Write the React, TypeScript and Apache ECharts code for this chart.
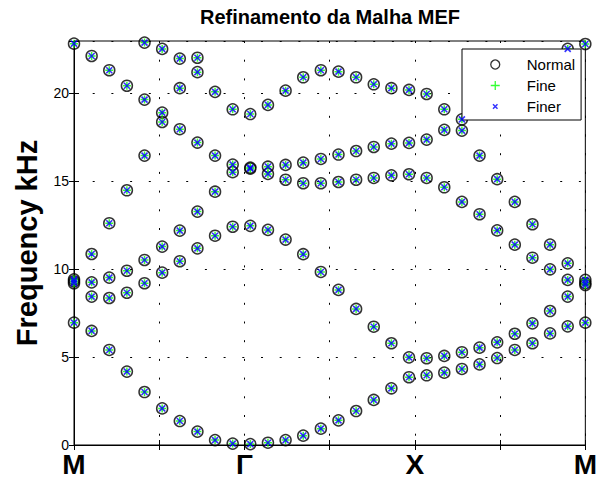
import React, { useEffect, useRef } from 'react';
import * as echarts from 'echarts';

// Tick labels along the k-path (7 ticks, every 29/6 k-steps)
const kTickLabels = ['M', '', 'Γ', '', 'X', '', 'M'];
const kLast = 29;
const yTicks = [0, 5, 10, 15, 20];
const yMax = 22.95;

// Frequencies (kHz) per k-point, segment M -> Γ (k = 0..9)
const freqMtoGamma: number[][] = [
  [22.8, 9.41, 9.3, 9.19, 6.95],
  [22.1, 10.85, 9.24, 8.43, 6.48],
  [21.29, 12.6, 9.51, 8.35, 5.4],
  [20.41, 14.47, 9.9, 8.65, 4.17],
  [22.86, 19.62, 16.44, 10.51, 9.19, 3.01],
  [22.5, 18.88, 18.35, 11.27, 9.79, 2.08],
  [21.95, 20.27, 17.94, 12.18, 10.44, 1.36],
  [22.0, 21.18, 17.18, 13.26, 11.17, 0.76],
  [20.06, 16.44, 14.39, 11.89, 0.28],
  [19.07, 15.93, 15.5, 12.4, 0.08],
];
// segment Γ -> X (k = 10..19)
const freqGammaToX: number[][] = [
  [18.8, 15.76, 15.7, 12.45, 0.05],
  [19.32, 15.81, 15.4, 12.22, 0.13],
  [20.13, 15.91, 15.07, 11.67, 0.28],
  [20.89, 16.04, 14.87, 10.84, 0.53],
  [21.29, 16.25, 14.87, 9.83, 0.93],
  [21.21, 16.5, 14.94, 8.81, 1.4],
  [20.89, 16.7, 15.07, 7.73, 1.93],
  [20.49, 16.93, 15.17, 6.72, 2.56],
  [20.27, 17.12, 15.32, 5.78, 3.22],
  [20.17, 17.16, 15.38, 4.98, 3.85],
];
// segment X -> M (k = 20..29)
const freqXtoM: number[][] = [
  [19.94, 17.35, 15.17, 4.93, 3.96],
  [19.07, 17.9, 14.64, 5.06, 4.11],
  [18.5, 17.86, 13.81, 5.27, 4.32],
  [16.44, 13.11, 5.53, 4.58],
  [15.1, 12.19, 5.83, 4.94],
  [13.81, 11.38, 6.32, 5.4],
  [12.54, 10.64, 6.91, 5.78],
  [11.38, 9.98, 7.61, 6.34],
  [22.5, 10.32, 9.38, 8.43, 6.74],
  [22.78, 9.38, 9.2, 9.09, 6.95],
];

const seriesNames = ['Normal', 'Fine', 'Finer'];

const FONT = '"Liberation Sans", Arial, Helvetica, sans-serif';
const PLUS = 'path://M5,0 L5,10 M0,5 L10,5';
const CROSS = 'path://M0,0 L10,10 M10,0 L0,10';
const CROSS_LEGEND = 'path://M2.5,2.5 L7.5,7.5 M7.5,2.5 L2.5,7.5 M0,0 M10,10';

function buildPoints(): [number, number][] {
  const rows = [...freqMtoGamma, ...freqGammaToX, ...freqXtoM];
  const pts: [number, number][] = [];
  rows.forEach((row, k) => row.forEach((f) => pts.push([k, f])));
  return pts;
}

export default function App() {
  const ref = useRef<HTMLDivElement>(null);
  useEffect(() => {
    if (!ref.current) return;
    const chart = echarts.init(ref.current, null, { renderer: 'svg' });
    const pts = buildPoints();
    const interval = kLast / 6;
    const dotted = { type: [2, 16.7], color: '#000', width: 1 };
    const tickIdx = (v: number) => Math.round((v * 6) / kLast);
    chart.setOption({
      animation: false,
      backgroundColor: '#fff',
      grid: { left: 74, right: 11, top: 41, bottom: 37, show: true, borderColor: '#000', borderWidth: 1 },
      graphic: [
        {
          type: 'text',
          x: 330,
          y: 7,
          style: {
            text: 'Refinamento da Malha MEF',
            font: `bold 20px ${FONT}`,
            fill: '#000',
            textAlign: 'center',
            textVerticalAlign: 'top',
          },
        },
      ],
      legend: {
        orient: 'vertical',
        left: 462,
        top: 49,
        padding: [8, 6, 6, 28],
        itemWidth: 9,
        itemHeight: 9,
        itemGap: 6,
        backgroundColor: '#fff',
        borderColor: '#000',
        borderWidth: 1,
        selectedMode: false,
        textStyle: { fontSize: 15, color: '#000', fontFamily: FONT, padding: [0, 0, 0, 22] },
        data: [
          { name: seriesNames[0], icon: 'circle', itemStyle: { color: 'transparent', borderColor: '#000', borderWidth: 1.3 } },
          { name: seriesNames[1], icon: PLUS, itemStyle: { color: 'transparent', borderColor: '#00ff00', borderWidth: 1.3 } },
          { name: seriesNames[2], icon: CROSS_LEGEND, itemStyle: { color: 'transparent', borderColor: '#0000ff', borderWidth: 1.5 } },
        ],
      },
      xAxis: [
        {
          type: 'value',
          min: 0,
          max: kLast,
          interval,
          position: 'bottom',
          axisLine: { show: true, lineStyle: { color: '#000', width: 1 } },
          axisTick: { show: true, inside: true, length: 5, lineStyle: { color: '#000' } },
          axisLabel: {
            margin: 5,
            color: '#000',
            fontSize: 28,
            fontWeight: 'bold',
            fontFamily: FONT,
            formatter: (v: number) => kTickLabels[tickIdx(v)] ?? '',
          },
          splitLine: { show: true, lineStyle: dotted },
        },
        {
          type: 'value',
          min: 0,
          max: kLast,
          interval,
          position: 'top',
          axisLine: { show: true, lineStyle: { color: '#000', width: 1 } },
          axisTick: { show: true, inside: true, length: 5, lineStyle: { color: '#000' } },
          axisLabel: { show: false },
          splitLine: { show: false },
        },
      ],
      yAxis: [
        {
          type: 'value',
          min: 0,
          max: yMax,
          interval: 5,
          position: 'left',
          name: 'Frequency kHz',
          nameLocation: 'middle',
          nameGap: 33,
          nameTextStyle: { fontSize: 29, fontWeight: 'bold', color: '#000', fontFamily: FONT },
          axisLine: { show: true, lineStyle: { color: '#000', width: 1 } },
          axisTick: { show: true, inside: true, length: 5, lineStyle: { color: '#000' } },
          axisLabel: {
            margin: 5,
            color: '#000',
            fontSize: 14,
            fontFamily: FONT,
            formatter: (v: number) => (yTicks.includes(v) ? String(v) : ''),
          },
          splitLine: { show: true, lineStyle: dotted },
        },
        {
          type: 'value',
          min: 0,
          max: yMax,
          interval: 5,
          position: 'right',
          axisLine: { show: true, lineStyle: { color: '#000', width: 1 } },
          axisTick: { show: true, inside: true, length: 5, lineStyle: { color: '#000' } },
          axisLabel: { show: false },
          splitLine: { show: false },
        },
      ],
      series: [
        {
          name: seriesNames[0],
          type: 'scatter',
          data: pts,
          symbol: 'circle',
          symbolSize: 11,
          itemStyle: { color: 'transparent', borderColor: '#000', borderWidth: 1.5 },
          z: 2,
        },
        {
          name: seriesNames[1],
          type: 'scatter',
          data: pts,
          symbol: PLUS,
          symbolSize: 8,
          itemStyle: { color: 'transparent', borderColor: '#00ff00', borderWidth: 1.5 },
          z: 3,
        },
        {
          name: seriesNames[2],
          type: 'scatter',
          data: pts,
          symbol: CROSS,
          symbolSize: 6,
          itemStyle: { color: 'transparent', borderColor: '#0000ff', borderWidth: 1.6 },
          z: 4,
        },
      ],
    });
    return () => chart.dispose();
  }, []);
  return <div ref={ref} style={{ position: 'absolute', left: 0, top: 0, width: 600, height: 482 }} />;
}
